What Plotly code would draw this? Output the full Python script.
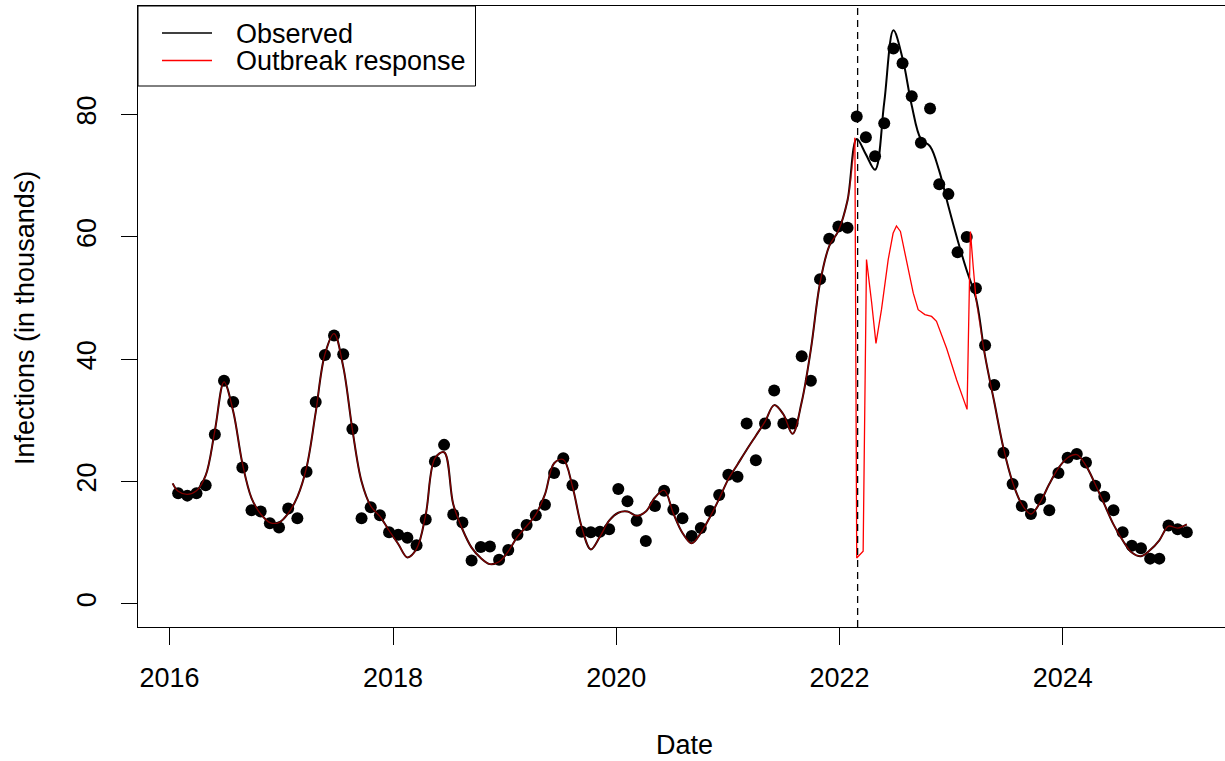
import pandas as pd
import plotly.graph_objects as go

# ---------------- data ----------------
FIRST_OBS_DATE = "2016-01-29"
OBS_STEP = "30D"

observed = [
    18.1, 17.7, 18.1, 19.4, 27.7, 36.5, 33.0, 22.3, 15.3, 15.1, 13.2, 12.5,
    15.6, 14.0, 21.6, 33.0, 40.7, 43.9, 40.8, 28.6, 14.0, 15.8, 14.5, 11.7,
    11.3, 10.8, 9.6, 13.8, 23.3, 26.0, 14.6, 13.3, 7.1, 9.3, 9.4, 7.2,
    8.8, 11.3, 12.9, 14.5, 16.2, 21.4, 23.8, 19.4, 11.8, 11.7, 11.8, 12.2,
    18.8, 16.8, 13.6, 10.3, 16.0, 18.5, 15.4, 14.0, 11.1, 12.4, 15.2, 17.8,
    21.1, 20.8, 29.5, 23.5, 29.5, 34.9, 29.5, 29.5, 40.5, 36.5, 53.1, 59.7,
    61.7, 61.5, 79.7, 76.3, 73.2, 78.6, 90.8, 88.4, 83.0, 75.4, 81.0, 68.6,
    67.0, 57.5, 60.0, 51.6, 42.3, 35.8, 24.7, 19.6, 16.0, 14.7, 17.1, 15.3,
    21.4, 23.9, 24.5, 23.1, 19.3, 17.5, 15.3, 11.7, 9.5, 9.1, 7.4, 7.4,
    12.8, 12.2, 11.7,
]

# smoothed "Observed" curve: a start value, then one value per observation date
FIT_START_DATE = "2016-01-11"
FIT_START_VALUE = 19.7
fitted = [
    18.4, 17.9, 18.5, 21.0, 28.3, 36.3, 31.5, 23.0, 17.3, 14.7, 13.3, 13.3,
    14.8, 17.5, 22.3, 31.3, 40.8, 44.2, 38.8, 28.5, 20.0, 16.0, 14.3, 12.0,
    9.8, 7.6, 9.0, 14.6, 23.8, 24.8, 16.3, 12.2, 9.2, 7.5, 6.5, 6.9,
    8.6, 11.0, 12.7, 14.6, 17.9, 23.0, 23.6, 19.2, 12.6, 8.9, 11.0, 13.6,
    14.9, 15.1, 14.4, 15.1, 17.4, 18.6, 14.8, 11.6, 9.9, 11.6, 14.2, 17.2,
    20.4, 22.8, 25.2, 27.5, 29.8, 32.5, 31.0, 27.8, 33.0, 41.6, 52.5, 58.5,
    61.0, 66.0, 76.0, 73.5, 71.0, 82.0, 93.8, 89.2, 81.5, 76.0, 74.8, 70.8,
    65.0, 59.5, 54.5, 50.0, 40.5, 33.0, 25.5, 19.9, 16.3, 14.7, 16.6, 19.6,
    22.2, 23.9, 24.4, 22.6, 19.6, 16.3, 13.0, 10.4, 8.4, 7.8, 8.8, 10.4,
    12.7, 12.4, 13.0,
]

# outbreak-response curve where it departs from the observed curve
response_dates = [
    "2022-02-20", "2022-02-26", "2022-03-19", "2022-03-30", "2022-04-16",
    "2022-04-30", "2022-05-18", "2022-06-09", "2022-06-25", "2022-07-06",
    "2022-07-19", "2022-08-08", "2022-08-30", "2022-09-15", "2022-10-07",
    "2022-10-29", "2022-11-14", "2022-12-17", "2023-01-19", "2023-02-22",
    "2023-03-05", "2023-03-14",
]
response_values = [
    76.2, 7.5, 8.6, 56.3, 49.2,
    42.6, 48.1, 56.3, 60.6, 61.8,
    60.9, 56.3, 50.8, 48.1, 47.3,
    47.0, 46.2, 41.8, 36.6, 31.8,
    60.9, 55.2,
]

INTERVENTION_DATE = "2022-03-01"

x_tick_dates = ["2016-01-01", "2018-01-01", "2020-01-01", "2022-01-01", "2024-01-01"]
x_tick_labels = ["2016", "2018", "2020", "2022", "2024"]
y_tick_values = [0, 20, 40, 60, 80]

# ---------------- build ----------------
obs_dates = pd.date_range(FIRST_OBS_DATE, periods=len(observed), freq=OBS_STEP)
fit_dates = [pd.Timestamp(FIT_START_DATE)] + list(obs_dates)
fit_vals = [FIT_START_VALUE] + fitted

resp_dates = [pd.Timestamp(d) for d in response_dates]
resp_start, resp_end = resp_dates[0], resp_dates[-1]
pre = [(d, v) for d, v in zip(fit_dates, fit_vals) if d < resp_start]
post = [(d, v) for d, v in zip(fit_dates, fit_vals) if d > resp_end]

FONT = "Liberation Sans, Arial, Helvetica, sans-serif"
FS = 27
BLACK_W = 2.0
RED_W = 1.3
RED_OVERLAP = "rgba(255,0,0,0.5)"

fig = go.Figure()

fig.add_trace(go.Scatter(
    x=obs_dates, y=observed, mode="markers", name="data",
    marker=dict(size=12, color="black", line=dict(width=0)),
    showlegend=False, hoverinfo="skip"))

fig.add_trace(go.Scatter(
    x=fit_dates, y=fit_vals, mode="lines", name="Observed",
    line=dict(color="black", width=BLACK_W, shape="spline", smoothing=1),
    showlegend=False, hoverinfo="skip"))

# red: common part before the response window
fig.add_trace(go.Scatter(
    x=[d for d, _ in pre] + [resp_dates[0]],
    y=[v for _, v in pre] + [response_values[0]],
    mode="lines", name="Outbreak response",
    line=dict(color=RED_OVERLAP, width=RED_W, shape="spline", smoothing=1),
    showlegend=False, hoverinfo="skip"))
# red: response window
fig.add_trace(go.Scatter(
    x=resp_dates + [post[0][0]],
    y=response_values + [post[0][1]],
    mode="lines", name="Outbreak response",
    line=dict(color="red", width=RED_W),
    showlegend=False, hoverinfo="skip"))
# red: common part after the response window
fig.add_trace(go.Scatter(
    x=[d for d, _ in post], y=[v for _, v in post],
    mode="lines", name="Outbreak response",
    line=dict(color=RED_OVERLAP, width=RED_W, shape="spline", smoothing=1),
    showlegend=False, hoverinfo="skip"))

# vertical dashed intervention line
fig.add_shape(type="line", xref="x", yref="paper",
              x0=INTERVENTION_DATE, x1=INTERVENTION_DATE, y0=0, y1=1,
              line=dict(color="black", width=1.3, dash="7px,5px"))

# ---------------- legend (drawn in the R style) ----------------
PH = 621.0   # plot height in px
PW = 1087.0  # plot width in px


def px_x(px):
    return (px - 138) / PW


def px_y(py):
    return (627 - py) / PH


fig.add_shape(type="rect", xref="paper", yref="paper",
              x0=0, x1=px_x(475.5), y0=px_y(86), y1=1,
              line=dict(color="black", width=1), fillcolor="white", layer="above")
legend_items = [("Observed", "black", 33.0), ("Outbreak response", "red", 60.5)]
for label, col, ypix in legend_items:
    fig.add_shape(type="line", xref="paper", yref="paper",
                  x0=px_x(162), x1=px_x(212), y0=px_y(ypix), y1=px_y(ypix),
                  line=dict(color=col, width=1.5), layer="above")
    fig.add_annotation(text=label, xref="paper", yref="paper",
                       x=px_x(234), y=px_y(ypix + 1), xanchor="left", yanchor="middle",
                       showarrow=False, font=dict(family=FONT, size=FS, color="black"))

# axis titles
fig.add_annotation(text="Date", xref="paper", yref="paper",
                   x=px_x(684), y=px_y(745), xanchor="center", yanchor="middle",
                   showarrow=False, font=dict(family=FONT, size=FS, color="black"))
fig.add_annotation(text="Infections (in thousands)", xref="paper", yref="paper",
                   x=px_x(25), y=px_y(318), xanchor="center", yanchor="middle",
                   textangle=-90, showarrow=False,
                   font=dict(family=FONT, size=FS, color="black"))

fig.update_layout(
    width=1225, height=761,
    margin=dict(l=138, r=0, t=6, b=134),
    plot_bgcolor="white", paper_bgcolor="white",
    showlegend=False,
    font=dict(family=FONT, size=FS, color="black"),
)
fig.update_xaxes(
    type="date", range=["2015-09-19 14:24", "2025-06-14 21:36"],
    tickmode="array", tickvals=x_tick_dates, ticktext=x_tick_labels,
    ticks="outside", ticklen=17, tickwidth=1, tickcolor="black",
    ticklabelstandoff=10,
    showline=True, linecolor="black", linewidth=1, mirror=True,
    showgrid=False, zeroline=False,
    tickfont=dict(family=FONT, size=FS, color="black"),
)
fig.update_yaxes(
    range=[-3.78, 97.76], tickmode="array", tickvals=y_tick_values,
    ticks="outside", ticklen=16, tickwidth=1, tickcolor="black", tickangle=-90,
    ticklabelstandoff=14,
    showline=True, linecolor="black", linewidth=1, mirror=False,
    showgrid=False, zeroline=False,
    tickfont=dict(family=FONT, size=FS, color="black"),
)

fig.write_html("out.html")
